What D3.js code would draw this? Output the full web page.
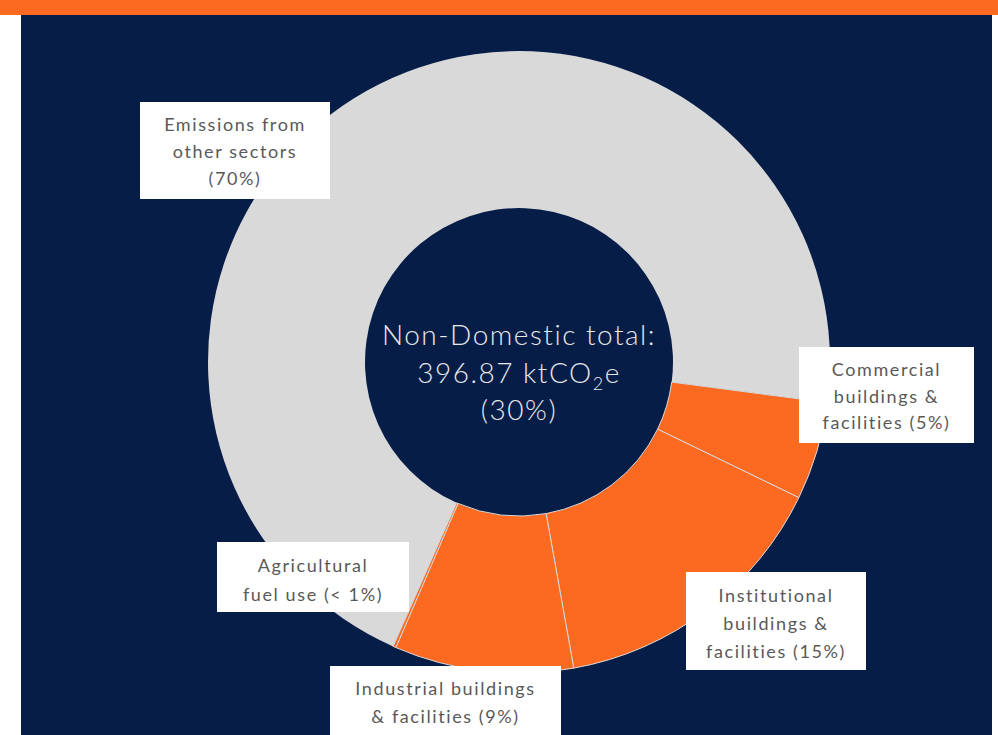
<!DOCTYPE html>
<html>
<head>
<meta charset="utf-8">
<script src="https://cdn.jsdelivr.net/npm/d3@7"></script>
<style>
  html, body { margin: 0; padding: 0; background: #ffffff; }
  svg { display: block; }
</style>
</head>
<body>
<div id="chart"></div>
<script>
// Share of total emissions (%) by sector
const categories = [
  "Commercial buildings & facilities",
  "Institutional buildings & facilities",
  "Industrial buildings & facilities",
  "Agricultural fuel use",
  "Emissions from other sectors"
];
const shares = [5.1, 15.0, 9.3, 0.15, 70.45];
const isNonDomestic = [true, true, true, true, false];

// Label text, one entry per line
const labelLines = [
  ["Commercial", "buildings &", "facilities (5%)"],
  ["Institutional", "buildings &", "facilities (15%)"],
  ["Industrial buildings", "& facilities (9%)"],
  ["Agricultural", "fuel use (< 1%)"],
  ["Emissions from", "other sectors", "(70%)"]
];
const centreLines = ["Non-Domestic total:", "396.87 ktCO2e", "(30%)"];

// Layout
const W = 998, H = 735;
const cx = 519, cy = 362, rOuter = 311, rInner = 154;
const startDeg = 97.5;
const labelBoxes = [
  { x: 799, y: 347, w: 175, h: 96, base: 376, step: 26.5 },
  { x: 686, y: 572, w: 180, h: 98, base: 602, step: 28 },
  { x: 330, y: 666, w: 231, h: 80, base: 695, step: 28 },
  { x: 217, y: 542, w: 192, h: 70, base: 572, step: 29 },
  { x: 140, y: 102, w: 190, h: 97, base: 131, step: 27 }
];

const colours = { navy: "#061d48", orange: "#fc6921", grey: "#d9d9d9", text: "#595959" };

const svg = d3.select("#chart").append("svg")
  .attr("width", W).attr("height", H);

svg.append("rect").attr("x", 0).attr("y", 0).attr("width", W).attr("height", 15)
  .attr("fill", colours.orange);
svg.append("rect").attr("x", 21).attr("y", 15).attr("width", 971).attr("height", H - 15)
  .attr("fill", colours.navy);

const data = categories.map((c, i) => ({ name: c, value: shares[i], nd: isNonDomestic[i], i }));

const pie = d3.pie().value(d => d.value).sort(null)
  .startAngle(startDeg * Math.PI / 180)
  .endAngle((startDeg + 360) * Math.PI / 180);
const arc = d3.arc().innerRadius(rInner).outerRadius(rOuter);

const g = svg.append("g").attr("transform", `translate(${cx},${cy})`);
g.selectAll("path.slice").data(pie(data)).join("path")
  .attr("class", "slice")
  .attr("d", arc)
  .attr("fill", d => d.data.nd ? colours.orange : colours.grey)
  .attr("stroke", colours.grey)
  .attr("stroke-width", d => d.data.nd ? 1 : 0);

// Centre text
const ct = svg.append("text")
  .attr("text-anchor", "middle")
  .attr("fill", "#e8e8e8")
  .style("font-family", "Lato, 'Open Sans', sans-serif")
  .style("font-weight", 300)
  .style("font-size", "28px")
  .style("letter-spacing", "1.5px");
ct.append("tspan").attr("x", cx).attr("y", 345).text(centreLines[0]);
const l2 = ct.append("tspan").attr("x", cx).attr("y", 383);
const m = centreLines[1].match(/^(.*CO)2(.*)$/);
l2.append("tspan").text(m[1]);
l2.append("tspan").attr("dy", 7).style("font-size", "18px").text("2");
l2.append("tspan").attr("dy", -7).text(m[2]);
ct.append("tspan").attr("x", cx).attr("y", 420).text(centreLines[2]);

// Label boxes
const lab = svg.selectAll("g.label").data(data).join("g").attr("class", "label");
lab.append("rect")
  .attr("x", d => labelBoxes[d.i].x).attr("y", d => labelBoxes[d.i].y)
  .attr("width", d => labelBoxes[d.i].w).attr("height", d => labelBoxes[d.i].h)
  .attr("fill", "#ffffff");
lab.each(function(d) {
  const b = labelBoxes[d.i];
  const t = d3.select(this).append("text")
    .attr("text-anchor", "middle")
    .attr("fill", colours.text)
    .style("font-family", "Lato, 'Open Sans', sans-serif")
    .style("font-weight", 400)
    .style("font-size", "18px")
    .style("letter-spacing", "1.6px");
  labelLines[d.i].forEach((line, k) => {
    t.append("tspan").attr("x", b.x + b.w / 2).attr("y", b.base + k * b.step).text(line);
  });
});
</script>
</body>
</html>
